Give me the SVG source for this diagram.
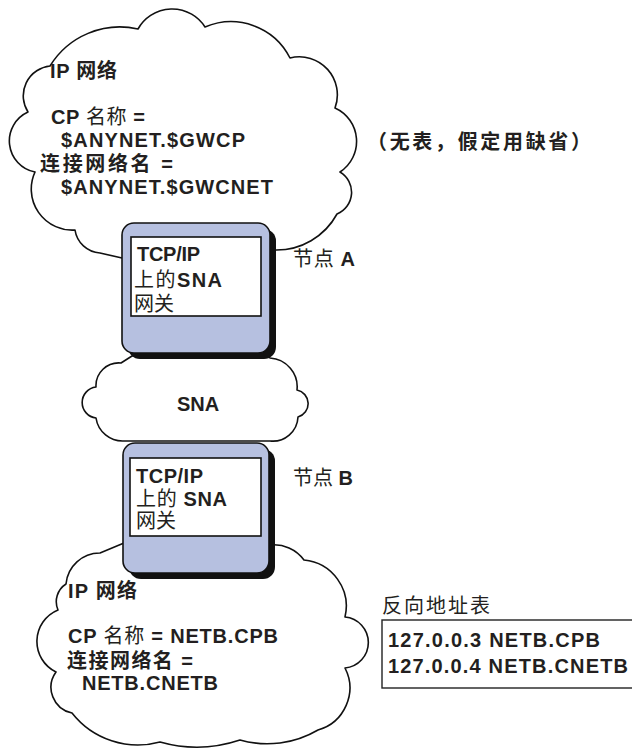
<svg xmlns="http://www.w3.org/2000/svg" width="632" height="748" viewBox="0 0 632 748">
  <style>
    .cloud { fill: #ffffff; stroke: #111111; stroke-width: 1.6; stroke-linejoin: round; stroke-linecap: round; }
    .body { fill: #b6c0e0; stroke: #111111; stroke-width: 1.6; }
    .shadow { fill: #111111; }
    .screen { fill: #ffffff; stroke: #111111; stroke-width: 1.6; }
    .frame { fill: #ffffff; stroke: #222222; stroke-width: 1.4; }
    text { font-family: "Liberation Sans", "Noto Sans CJK SC", sans-serif; font-size: 20px; fill: #231f20; }
    .b { font-weight: bold; }
    .r { font-weight: normal; }
  </style>

  <!-- IP network above gateway A -->
  <g id="cloud-ip-top">
    <path class="cloud" d="M122,258 L100,253
      A27 27 0 0 1 75,230
      A41 41 0 0 1 35,172
      A31.7 31.7 0 0 1 28,112
      A30 30 0 0 1 50,66
      A82 82 0 0 1 138,29
      A39 39 0 0 1 205,27
      A66 66 0 0 1 290,58
      A38 38 0 0 1 335,108
      A36.6 36.6 0 0 1 340,172
      A23.5 23.5 0 0 1 337,214
      A69 69 0 0 1 275,250"/>
    <text x="50" y="78" class="b" textLength="67">IP 网络</text>
    <text x="51" y="124" class="b" textLength="94">CP <tspan class="r">名称</tspan> =</text>
    <text x="61" y="147" class="b" textLength="184">$ANYNET.$GWCP</text>
    <text x="40" y="171" class="b" textLength="133">连接网络名  =</text>
    <text x="61" y="194" class="b" textLength="212">$ANYNET.$GWCNET</text>
  </g>

  <text x="367" y="149" class="b" font-size="18" textLength="224">（无表，假定用缺省）</text>

  <!-- SNA network between the gateways -->
  <g id="cloud-sna">
    <path class="cloud" d="M124,441
      A27 27 0 0 1 96,418
      A15.6 15.6 0 0 1 96,387
      A22.8 22.8 0 0 1 121,363
      L132,356
      L268,356 L270,358
      A28.9 28.9 0 0 1 297,390
      A13.9 13.9 0 0 1 298,417
      A25.3 25.3 0 0 1 270,441 Z"/>
    <text x="198" y="411" class="b" font-size="21" text-anchor="middle">SNA</text>
  </g>

  <!-- IP network below gateway B -->
  <g id="cloud-ip-bottom">
    <path class="cloud" d="M270,545
      A37 37 0 0 1 304,560
      A46.5 46.5 0 0 1 345,617
      A25.6 25.6 0 0 1 345,668
      A43.7 43.7 0 0 1 318,730
      A100 100 0 0 1 240,740
      A136 136 0 0 1 160,742
      A83.7 83.7 0 0 1 72,713
      A26.2 26.2 0 0 1 56,672
      A34 34 0 0 1 58,610
      A21 21 0 0 1 66,584
      A33.9 33.9 0 0 1 100,553
      L124,543 Z"/>
    <text x="68" y="598" class="b" textLength="69">IP 网络</text>
    <text x="68" y="643" class="b" textLength="210">CP <tspan class="r">名称</tspan> = NETB.CPB</text>
    <text x="67" y="668" class="b" textLength="126">连接网络名 =</text>
    <text x="82" y="690" class="b" textLength="136">NETB.CNETB</text>
  </g>

  <!-- Gateway node A -->
  <g id="node-a">
    <rect class="shadow" x="128" y="229" width="148" height="130" rx="12"/>
    <rect class="body" x="122" y="223" width="148" height="130" rx="12"/>
    <rect class="screen" x="131" y="237" width="130" height="79"/>
    <text x="137" y="261" class="b" textLength="63">TCP/IP</text>
    <text x="134" y="287" class="b" textLength="88"><tspan class="r">上的</tspan>SNA</text>
    <text x="134" y="311" class="r">网关</text>
    <text x="293" y="266" font-size="18" textLength="62"><tspan class="r">节点 </tspan><tspan class="b">A</tspan></text>
  </g>

  <!-- Gateway node B -->
  <g id="node-b">
    <rect class="shadow" x="129" y="449" width="146" height="130" rx="12"/>
    <rect class="body" x="123" y="443" width="146" height="130" rx="12"/>
    <rect class="screen" x="130" y="458" width="131" height="78"/>
    <text x="136" y="483" class="b" textLength="67">TCP/IP</text>
    <text x="136" y="506" class="b" textLength="91"><tspan class="r">上的</tspan> SNA</text>
    <text x="136" y="528" class="r">网关</text>
    <text x="293" y="485" font-size="18" textLength="60"><tspan class="r">节点 </tspan><tspan class="b">B</tspan></text>
  </g>

  <!-- Reverse address table -->
  <g id="reverse-table">
    <text x="382" y="613" class="r" font-size="18" textLength="108">反向地址表</text>
    <rect class="frame" x="382" y="620" width="262" height="68"/>
    <text x="388" y="647" class="b" textLength="212">127.0.0.3  NETB.CPB</text>
    <text x="388" y="673" class="b" textLength="240">127.0.0.4  NETB.CNETB</text>
  </g>
</svg>
